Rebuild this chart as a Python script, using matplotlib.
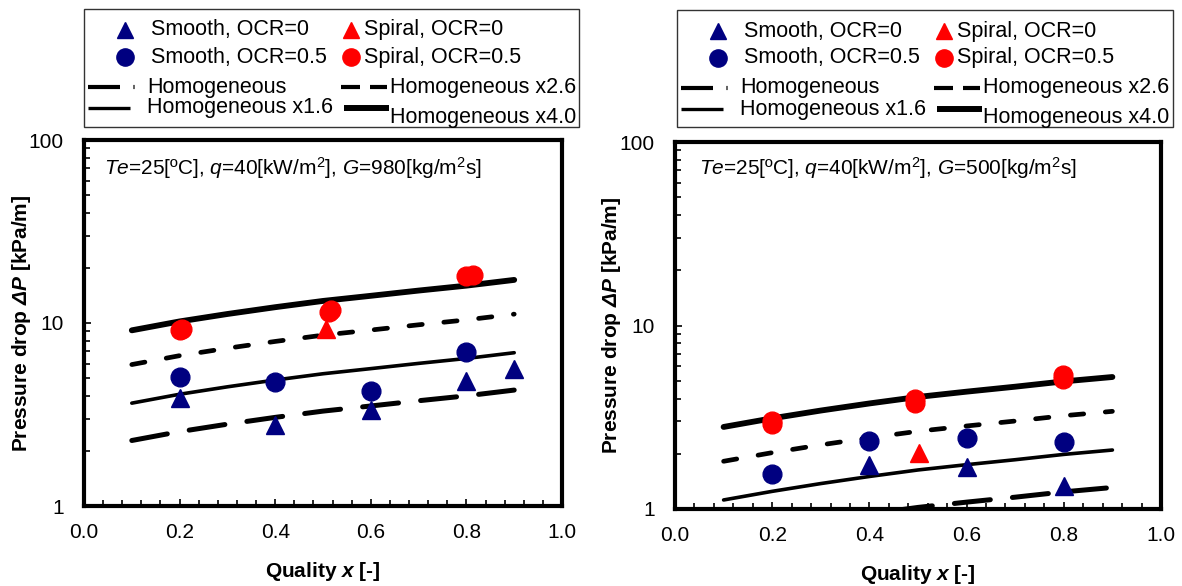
import matplotlib
matplotlib.use('Agg')
import matplotlib.pyplot as plt
from matplotlib.lines import Line2D
from matplotlib.patches import Rectangle
from matplotlib.ticker import MultipleLocator, FixedLocator, LogLocator, NullFormatter, FuncFormatter, FormatStrFormatter

plt.rcParams['font.family'] = ['Liberation Sans', 'DejaVu Sans']
plt.rcParams['mathtext.fontset'] = 'custom'
plt.rcParams['mathtext.rm'] = 'Liberation Sans'
plt.rcParams['mathtext.it'] = 'Liberation Sans:italic'
plt.rcParams['mathtext.bf'] = 'Liberation Sans:bold'
plt.rcParams['mathtext.bfit'] = 'Liberation Sans:italic:bold'
plt.rcParams['lines.scale_dashes'] = False

NAVY = '#000080'
RED = '#ff0000'

# homogeneous model curves (base values)
quality_line = [0.1, 0.2, 0.3, 0.4, 0.5, 0.6, 0.7, 0.8, 0.9]
homog_980 = [2.28, 2.55, 2.80, 3.05, 3.30, 3.52, 3.76, 4.00, 4.30]
homog_500 = [0.70, 0.78, 0.86, 0.94, 1.02, 1.09, 1.16, 1.24, 1.31]
line_factors = [1.0, 1.6, 2.6, 4.0]
line_labels = ['Homogeneous', 'Homogeneous x1.6', 'Homogeneous x2.6', 'Homogeneous x4.0']
marker_labels = ['Smooth, OCR=0', 'Smooth, OCR=0.5', 'Spiral, OCR=0', 'Spiral, OCR=0.5']

# G = 980 measurements
smooth0_980_x = [0.2, 0.4, 0.6, 0.8, 0.9]
smooth0_980_y = [3.9, 2.77, 3.35, 4.8, 5.6]
smooth05_980_x = [0.2, 0.4, 0.6, 0.8]
smooth05_980_y = [5.07, 4.76, 4.25, 6.95]
spiral0_980_x = [0.507]
spiral0_980_y = [9.3]
spiral05_980_x = [0.2, 0.205, 0.512, 0.517, 0.8, 0.813]
spiral05_980_y = [9.1, 9.3, 11.5, 11.8, 18.0, 18.4]

# G = 500 measurements
smooth0_500_x = [0.4, 0.6, 0.8]
smooth0_500_y = [1.74, 1.69, 1.33]
smooth05_500_x = [0.2, 0.4, 0.6, 0.8]
smooth05_500_y = [1.55, 2.35, 2.44, 2.32]
spiral0_500_x = [0.503]
spiral0_500_y = [2.02]
spiral05_500_x = [0.2, 0.2, 0.494, 0.494, 0.798, 0.798]
spiral05_500_y = [2.9, 3.0, 3.8, 4.0, 5.1, 5.35]

line_styles = [
    dict(lw=3.6, dashes=(26, 16), dash_capstyle='round'),
    dict(lw=2.6, solid_capstyle='round'),
    dict(lw=3.4, dashes=(9.6, 15.6), dash_capstyle='round'),
    dict(lw=4.2, solid_capstyle='round'),
]
marker_styles = [('^', NAVY, 13), ('o', NAVY, 13.5), ('^', RED, 13), ('o', RED, 13.5)]

W, H = 1182, 586
fig = plt.figure(figsize=(W / 100, H / 100), dpi=100)


def px(x, y):
    return x / W, 1 - y / H


def draw_legend(left, top, width, height):
    x0, y0 = px(left, top + height)
    fig.add_artist(Rectangle((x0, y0), width / W, height / H, transform=fig.transFigure,
                             fill=False, ec='#333333', lw=1.0))
    rows = [21, 48, 78, 99]
    # marker entries: col1 = smooth, col2 = spiral
    for i, (lab, (m, c, ms)) in enumerate(zip(marker_labels, marker_styles)):
        col, row = divmod(i, 2)
        mx = left + (41 if col == 0 else 267)
        tx = left + (67 if col == 0 else 280)
        y = top + rows[row]
        fig.add_artist(Line2D([px(mx, y)[0]], [px(mx, y)[1]], transform=fig.transFigure,
                              ls='none', marker=m, ms=ms * 0.92, color=c))
        fig.text(*px(tx, y), lab, va='center', ha='left', fontsize=15.5)
    # line entries
    def seg(xa, xb, y, lw, color='black'):
        (fa, fy), (fb, _) = px(xa, y), px(xb, y)
        fig.add_artist(Line2D([fa, fb], [fy, fy], transform=fig.transFigure,
                              color=color, lw=lw, solid_capstyle='butt'))
    y = top + rows[2]
    seg(left + 4, left + 36, y, 3.0)
    seg(left + 49, left + 50.5, y, 3.0, '#666666')
    fig.text(*px(left + 63, y), line_labels[0], va='center', ha='left', fontsize=15.5)
    y = top + rows[3]
    seg(left + 4, left + 46, y, 2.4)
    fig.text(*px(left + 63, y), line_labels[1], va='center', ha='left', fontsize=15.5)
    y = top + rows[2]
    seg(left + 257, left + 276, y, 3.0)
    seg(left + 286, left + 303, y, 3.0)
    fig.text(*px(left + 306, y), line_labels[2], va='center', ha='left', fontsize=15.5)
    y = top + rows[3]
    seg(left + 260, left + 305, y, 4.3)
    fig.text(*px(left + 306, y + 9), line_labels[3], va='center', ha='left', fontsize=15.5)


def draw_panel(ax, base, series, cond, text_x, text_y):
    for f, lab, st in zip(line_factors, line_labels, line_styles):
        ax.plot(quality_line, [b * f for b in base], color='black', label=lab, zorder=2, **st)
    for (xs, ys), lab, (m, c, ms), z in zip(series, marker_labels, marker_styles, [3, 4, 3, 4]):
        ax.plot(xs, ys, ls='none', marker=m, ms=ms, color=c, mec=c, zorder=z, label=lab)

    ax.set_yscale('log')
    ax.set_xlim(0, 1)
    ax.set_ylim(1, 100)
    ax.xaxis.set_major_locator(MultipleLocator(0.2))
    ax.xaxis.set_minor_locator(MultipleLocator(0.04))
    ax.xaxis.set_major_formatter(FormatStrFormatter('%.1f'))
    ax.yaxis.set_major_locator(FixedLocator([1, 10, 100]))
    ax.yaxis.set_major_formatter(FuncFormatter(lambda v, _: f'{v:g}'))
    ax.yaxis.set_minor_locator(LogLocator(base=10, subs=range(2, 10)))
    ax.yaxis.set_minor_formatter(NullFormatter())
    ax.tick_params(which='both', direction='in', top=False, right=False, width=1.2, labelsize=15)
    ax.tick_params(axis='x', pad=12.5)
    ax.tick_params(axis='y', pad=14.5)
    ax.tick_params(which='major', length=5)
    ax.tick_params(which='minor', length=4.5)
    for sp in ax.spines.values():
        sp.set_linewidth(3)

    ax.set_xlabel(r'Quality $\mathbfit{x}$ [-]', fontsize=15, fontweight='bold')
    ax.set_ylabel(r'Pressure drop $\mathbfit{\Delta P}$ [kPa/m]', fontsize=15, fontweight='bold')
    ax.xaxis.set_label_coords(0.5, -0.148)
    ax.yaxis.set_label_coords(-0.107, 0.5)

    ax.text(text_x, text_y, cond, transform=ax.transAxes, va='center', ha='left', fontsize=15)


ax1 = fig.add_axes([84 / W, 1 - 506 / H, 478 / W, 366 / H])
ax2 = fig.add_axes([675 / W, 1 - 509 / H, 486 / W, 367 / H])

draw_panel(ax1, homog_980,
           [(smooth0_980_x, smooth0_980_y), (smooth05_980_x, smooth05_980_y),
            (spiral0_980_x, spiral0_980_y), (spiral05_980_x, spiral05_980_y)],
           r'$\mathit{Te}$=25[ºC], $\mathit{q}$=40[kW/m$^2$], $\mathit{G}$=980[kg/m$^2$s]',
           0.041, 0.923)
draw_panel(ax2, homog_500,
           [(smooth0_500_x, smooth0_500_y), (smooth05_500_x, smooth05_500_y),
            (spiral0_500_x, spiral0_500_y), (spiral05_500_x, spiral05_500_y)],
           r'$\mathit{Te}$=25[ºC], $\mathit{q}$=40[kW/m$^2$], $\mathit{G}$=500[kg/m$^2$s]',
           0.05, 0.929)

draw_legend(84, 9, 495, 118)
draw_legend(677, 10, 496, 117)

fig.savefig('out.png', dpi=100)
